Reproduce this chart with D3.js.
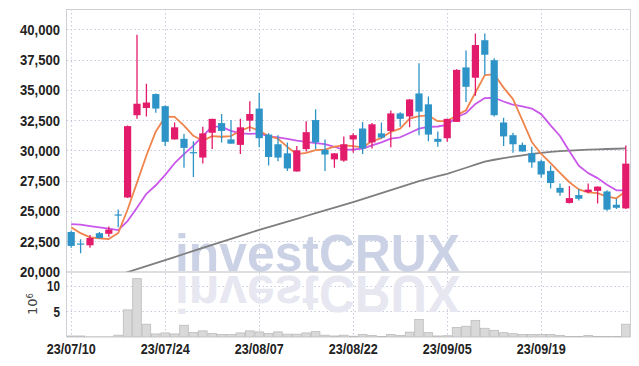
<!DOCTYPE html>
<meta charset="utf-8">
<style>
body { margin: 0; background: #fff; }
.lbl { font-family: 'Liberation Sans', Arial, sans-serif; font-weight: bold; font-size: 14.5px; fill: #222; }
</style>
<body>
  <div id="box1"></div>
</body>
<script src="https://d3js.org/d3.v7.min.js"></script>
<script>

// trading days
var dates = ["23/07/10","23/07/11","23/07/12","23/07/13","23/07/14","23/07/17","23/07/18","23/07/19","23/07/20","23/07/21",
             "23/07/24","23/07/25","23/07/26","23/07/27","23/07/28","23/07/31","23/08/01","23/08/02","23/08/03","23/08/04",
             "23/08/07","23/08/08","23/08/09","23/08/10","23/08/11","23/08/14","23/08/16","23/08/17","23/08/18","23/08/21",
             "23/08/22","23/08/23","23/08/24","23/08/25","23/08/28","23/08/29","23/08/30","23/08/31","23/09/01","23/09/04",
             "23/09/05","23/09/06","23/09/07","23/09/08","23/09/11","23/09/12","23/09/13","23/09/14","23/09/15","23/09/18",
             "23/09/19","23/09/20","23/09/21","23/09/22","23/09/25","23/09/26","23/09/27","23/10/04","23/10/05","23/10/06"]

var open  = [23250,22300,22150,23150,23100,24700,26100,32900,33500,34650,
             33650,30900,30950,29850,29400,31450,32250,30900,30450,32450,
             33450,31300,30500,29750,28250,30100,32500,30050,29250,29150,
             30900,31800,30650,31400,31600,33050,32800,34700,33800,30950,
             31000,32350,36850,36000,39100,37450,32300,31250,30450,29750,
             29100,28300,26900,25650,26300,26550,26650,26600,25500,25200]
var high  = [23350,22650,23000,23250,23700,25100,32050,39550,35500,34700,
             33700,32300,31350,30750,31950,32600,33000,32500,32600,34050,
             34750,31400,31250,30650,30350,32400,33400,30900,29750,31150,
             31400,32350,32250,32300,33300,33150,34250,37200,34450,31550,
             32600,36700,38250,39650,39650,37600,32700,31450,30650,30300,
             29250,28750,27250,27050,26800,27250,27000,26700,26000,30400]
var low   = [21950,21500,21950,22700,22850,23650,26050,32600,32800,33100,
             30350,30900,28550,27800,28900,30100,30650,30550,29700,31550,
             30250,28750,29100,28300,28250,29900,30100,28300,28550,29050,
             29800,29700,30150,30950,30250,31950,31900,31250,30750,30300,
             30700,32350,34000,34500,36250,32800,30350,29800,29900,28550,
             27750,26850,26250,25600,25850,26450,25600,25000,25150,25150]
var close = [22100,22250,22750,22750,23450,24650,32000,33850,33950,33450,
             30700,31900,30200,29800,31400,32600,31600,30550,31900,33000,
             31000,29450,29400,28500,30000,31500,30650,29650,29750,30500,
             31250,30150,32150,31050,33050,32600,34200,33200,31300,30700,
             32600,36650,35250,38700,37900,32900,31150,30500,29900,29000,
             28000,27300,26500,26050,26000,26750,27000,25100,25250,28900]

// volume in millions of shares
var volume = [0.2,0.2,0.05,0.05,0.05,0.35,5.3,11.4,2.5,0.6,
              0.8,0.6,2.3,0.9,1.2,0.7,0.5,0.5,0.8,1.2,
              1.0,0.7,1.0,0.55,0.55,0.8,1.05,0.35,0.2,0.35,
              0.15,0.5,0.3,0.1,0.5,0.3,0.95,3.4,0.85,0.2,
              0.25,1.85,2.1,3.25,1.7,1.3,0.85,0.65,0.5,0.5,
              0.5,0.5,0.3,0.1,0.1,0.3,0.1,0.1,0.1,2.5]

var ma5  = [23650,23150,22800,22730,22660,23160,25110,27330,29570,31560,
            32780,32760,32040,31200,30790,31170,31120,31180,31610,31930,
            31610,31180,30960,30280,29680,29780,30010,30060,30310,30400,
            30350,30250,30750,31010,31530,31800,32620,32820,32880,32410,
            32410,32890,33310,34780,36220,36280,35180,34230,32470,30690,
            29700,28940,28140,27360,26770,26530,26460,26180,26030,26610]
var ma10 = [23900,23850,23740,23630,23520,23400,24150,25250,26400,27110,
            27970,28935,29684,30384,31177,31976,31939,31611,31407,31363,
            31393,31150,31070,30946,30809,30698,30599,30508,30293,30042,
            30067,30133,30406,30660,30963,31076,31434,31789,31946,31968,
            32103,32753,33065,33830,34315,34345,34036,33767,33626,33453,
            32992,32061,31184,29917,28728,28114,27701,27161,26695,26690]
var ma60 = [null,null,null,null,null,19680,19930,20180,20430,20680,
            20930,21180,21430,21680,21930,22180,22430,22680,22930,23180,
            23420,23650,23880,24110,24340,24570,24800,25030,25260,25490,
            25720,25960,26210,26460,26710,26960,27210,27460,27660,27860,
            28060,28310,28560,28810,29060,29220,29360,29480,29590,29700,
            29790,29870,29930,29980,30020,30050,30080,30110,30130,30160]

var priceTicks = [20000,22500,25000,27500,30000,32500,35000,37500,40000]
var volTicks = [5,10]
var dateTicks = ["23/07/10","23/07/24","23/08/07","23/08/22","23/09/05","23/09/19"]

width = 639;
height = 366;
var pLeft = 66.5, pRight = 630.5, pTop = 9, pMid = 272, pBottom = 337;

var upColor = "#e31b6b", downColor = "#2e94c8";

x = d3.scaleBand().domain(dates).range([pLeft, pRight]).padding(0)
y = d3.scaleLinear().domain([20000, 41680]).range([271.3, pTop])
yv = d3.scaleLinear().domain([0, 12.7]).range([pBottom, pMid])

var bw = x.bandwidth();
var cx = function(i) { return x(dates[i]) + bw/2; }

var svg = d3.select('#box1').append("svg")
    .attr("width", width)
    .attr("height", height)

svg.append("defs").append("clipPath").attr("id", "pclip")
  .append("rect").attr("x", pLeft).attr("y", pTop).attr("width", pRight - pLeft).attr("height", pMid - pTop)

// grid
var grid = svg.append("g").attr("stroke", "#c7c9dc").attr("stroke-dasharray", "1.5,2.5").attr("stroke-width", 1)
grid.selectAll("line.h").data(priceTicks.filter(d => d > 20000)).join("line")
    .attr("x1", pLeft).attr("x2", pRight)
    .attr("y1", d => Math.round(y(d)) + 0.5).attr("y2", d => Math.round(y(d)) + 0.5)
grid.selectAll("line.v").data(volTicks).join("line")
    .attr("x1", pLeft).attr("x2", pRight)
    .attr("y1", d => Math.round(yv(d)) + 0.5).attr("y2", d => Math.round(yv(d)) + 0.5)
grid.selectAll("line.d").data(dateTicks).join("line")
    .attr("x1", d => Math.round(x(d) + bw/2) + 0.5).attr("x2", d => Math.round(x(d) + bw/2) + 0.5)
    .attr("y1", pTop).attr("y2", pBottom)

// watermark and its reflection
svg.append("text")
    .attr("x", 175).attr("y", 271)
    .attr("textLength", 285).attr("lengthAdjust", "spacingAndGlyphs")
    .style("font-family", "'Liberation Sans', Arial, sans-serif")
    .style("font-weight", "bold").style("font-size", "52px")
    .style("fill", "#cbd2e5")
    .text("investCRUX")
svg.append("text")
    .attr("transform", "translate(0," + (2 * 273.5) + ") scale(1,-1)")
    .attr("x", 175).attr("y", 271)
    .attr("textLength", 285).attr("lengthAdjust", "spacingAndGlyphs")
    .style("font-family", "'Liberation Sans', Arial, sans-serif")
    .style("font-weight", "bold").style("font-size", "52px")
    .style("fill", "#e6e7f1")
    .text("investCRUX")

// volume bars
svg.append("g").selectAll("rect").data(volume).join("rect")
    .attr("x", (d, i) => x(dates[i]) + 0.4)
    .attr("width", bw - 0.8)
    .attr("y", d => yv(d))
    .attr("height", d => pBottom - yv(d))
    .attr("fill", "#d9d9d9")
    .attr("stroke", "#bcbcbc")
    .attr("stroke-width", 0.8)

// moving averages
var lines = svg.append("g").attr("clip-path", "url(#pclip)").attr("fill", "none")
function maLine(arr, color, w) {
  var line = d3.line()
      .defined(d => d != null)
      .x((d, i) => cx(i))
      .y(d => y(d))
  lines.append("path").datum(arr)
      .attr("d", line)
      .attr("stroke", color)
      .attr("stroke-width", w)
      .attr("stroke-linejoin", "round")
}
maLine(ma60, "#7f7f7f", 1.8)
maLine(ma10, "#c957ea", 1.8)
maLine(ma5, "#ef844d", 1.8)

// candles
var idx = d3.range(dates.length)
var candles = svg.append("g").attr("clip-path", "url(#pclip)")
candles.selectAll("line").data(idx).join("line")
    .attr("x1", i => cx(i)).attr("x2", i => cx(i))
    .attr("y1", i => y(high[i])).attr("y2", i => y(low[i]))
    .attr("stroke", i => close[i] > open[i] ? upColor : downColor)
    .attr("stroke-width", 1.3)
candles.selectAll("rect").data(idx).join("rect")
    .attr("x", i => cx(i) - 3.6)
    .attr("width", 7.2)
    .attr("y", i => y(Math.max(open[i], close[i])))
    .attr("height", i => Math.max(1.2, Math.abs(y(open[i]) - y(close[i]))))
    .attr("fill", i => close[i] > open[i] ? upColor : downColor)

// frame
var frame = svg.append("g").attr("stroke", "#cfcfd6").attr("stroke-width", 1)
frame.append("line").attr("x1", pLeft).attr("x2", pLeft).attr("y1", pTop).attr("y2", pBottom)
frame.append("line").attr("x1", pRight).attr("x2", pRight).attr("y1", pTop).attr("y2", pBottom)
frame.append("line").attr("x1", pLeft).attr("x2", pRight).attr("y1", pTop + 0.5).attr("y2", pTop + 0.5)
frame.append("line").attr("x1", pLeft).attr("x2", pRight).attr("y1", pMid).attr("y2", pMid).attr("stroke", "#bdbdc4")

// labels (narrowed to match the condensed face of the original)
svg.selectAll("text.py").data(priceTicks).join("text")
    .attr("class", "lbl")
    .attr("x", 60).attr("y", d => y(d))
    .attr("dy", "0.38em")
    .attr("text-anchor", "end")
    .attr("textLength", 40).attr("lengthAdjust", "spacingAndGlyphs")
    .text(d => d3.format(",")(d))
svg.selectAll("text.vy").data(volTicks).join("text")
    .attr("class", "lbl")
    .attr("x", 60).attr("y", d => yv(d))
    .attr("dy", "0.38em")
    .attr("text-anchor", "end")
    .attr("textLength", d => String(d).length * 6.5).attr("lengthAdjust", "spacingAndGlyphs")
    .text(d => d)
svg.selectAll("text.dx").data(dateTicks).join("text")
    .attr("class", "lbl")
    .attr("x", d => x(d) + bw/2).attr("y", 354)
    .attr("text-anchor", "middle")
    .attr("textLength", 49).attr("lengthAdjust", "spacingAndGlyphs")
    .text(d => d)

var unit = svg.append("text")
    .attr("transform", "translate(37,304) rotate(-90)")
    .attr("text-anchor", "middle")
    .style("font-family", "'DejaVu Sans', sans-serif")
    .style("font-size", "13px")
    .style("fill", "#444")
unit.append("tspan").text("10")
unit.append("tspan").attr("dy", "-0.45em").style("font-size", "8.5px").text("6")

</script>
